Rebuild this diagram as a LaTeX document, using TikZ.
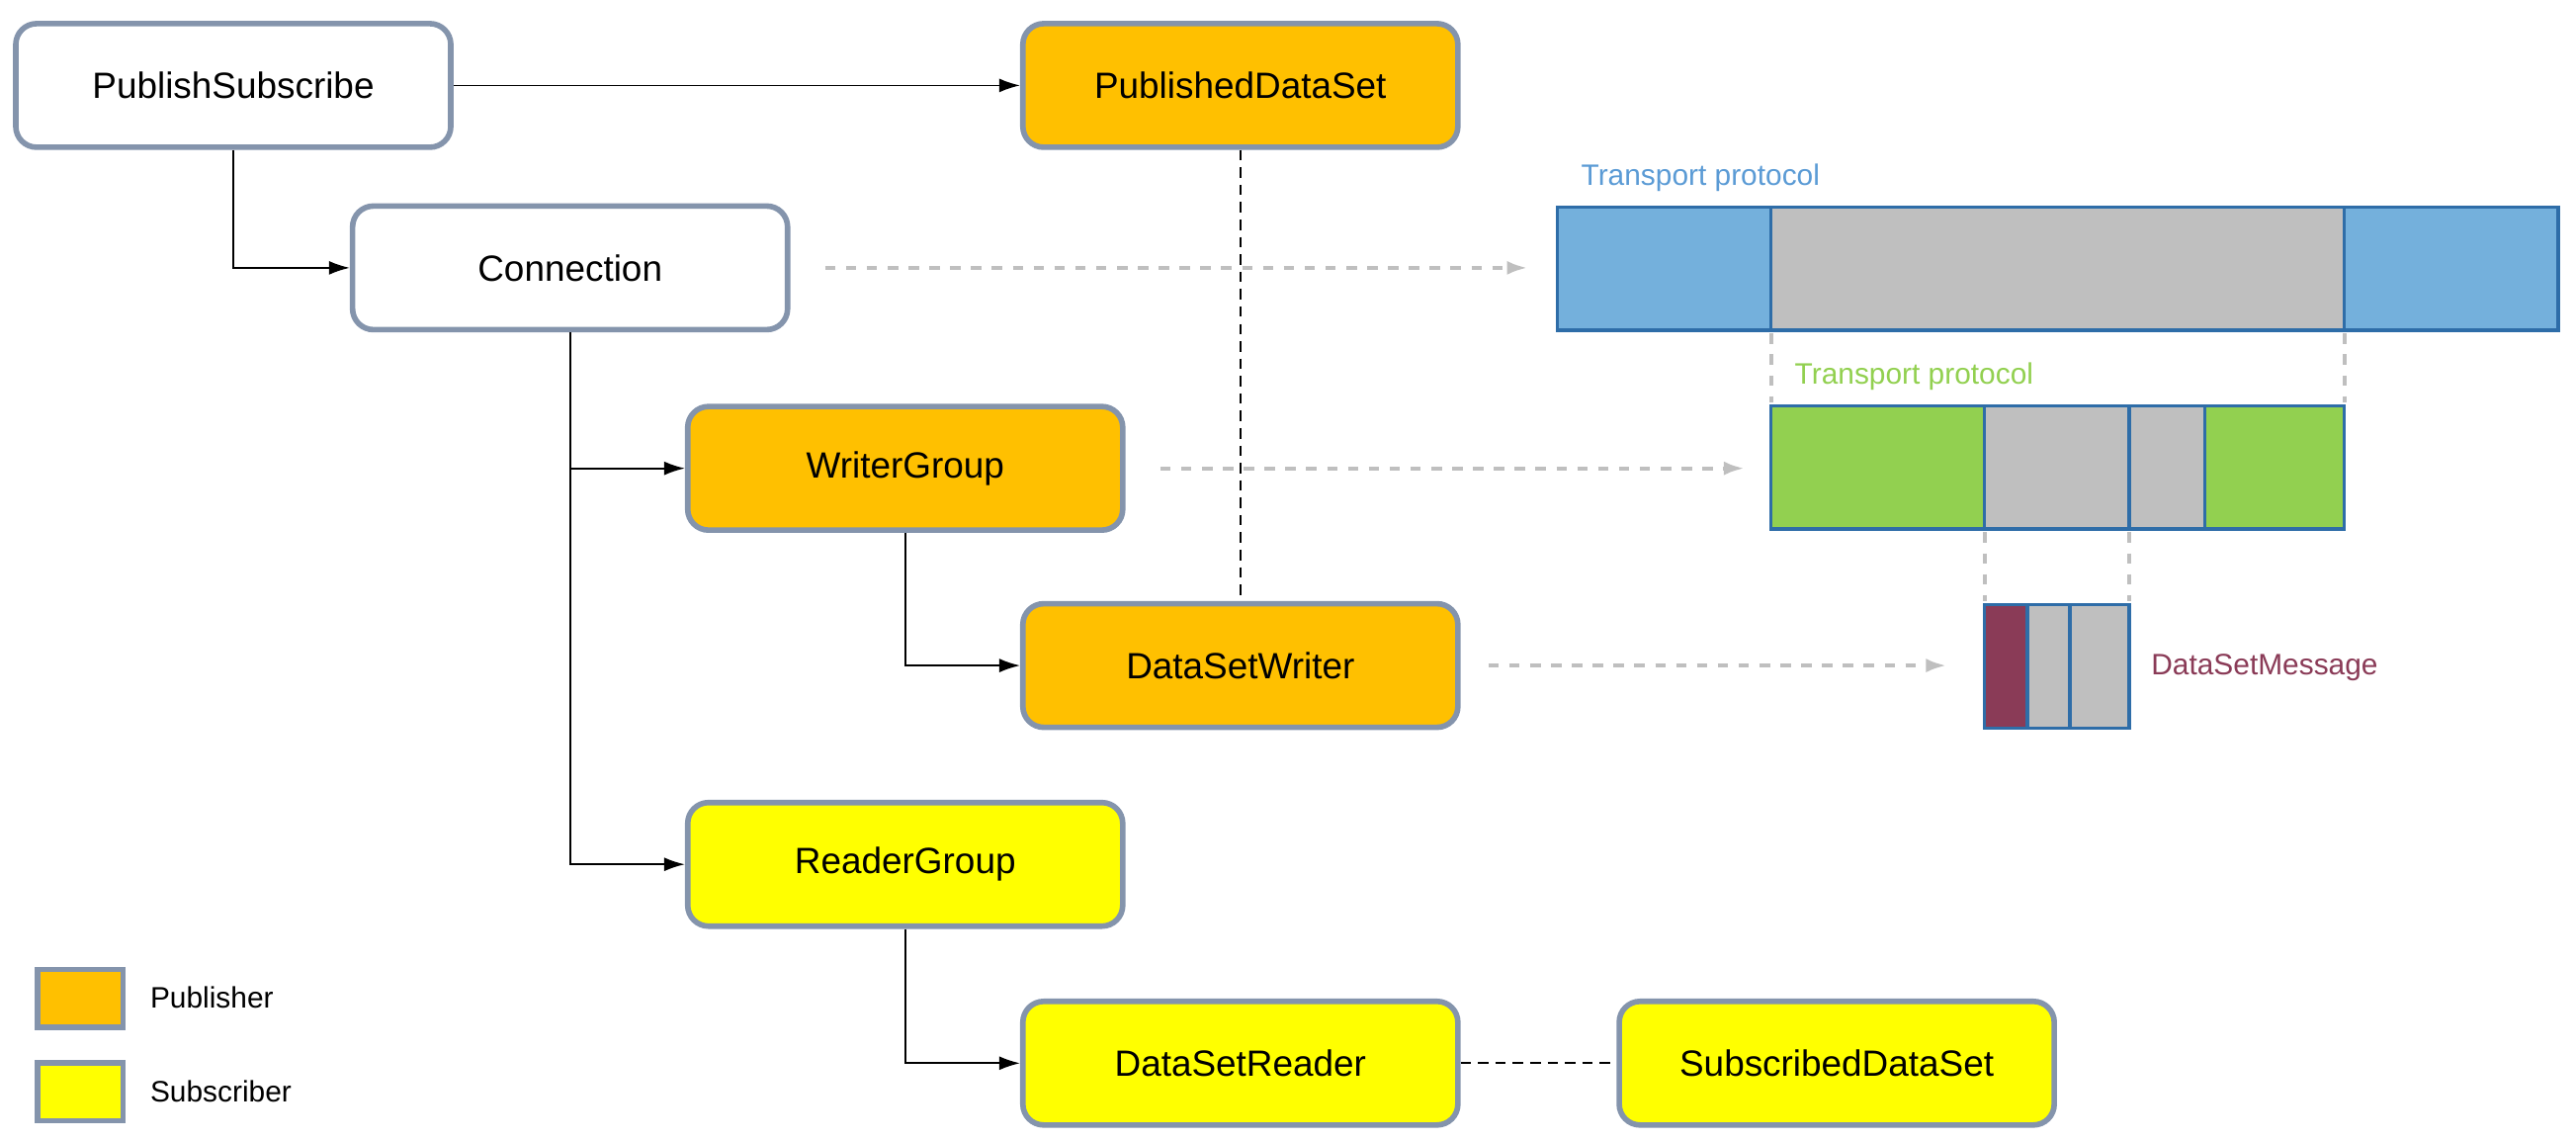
\documentclass[tikz,border=0pt]{standalone}
\usepackage{fontspec}
\setmainfont{Liberation Sans}
\usetikzlibrary{positioning, arrows.meta}
\definecolor{pubcol}{HTML}{FFC000}
\definecolor{subcol}{HTML}{FFFF00}
\definecolor{boxline}{HTML}{8494AC}
\definecolor{tpblue}{HTML}{74B0DC}
\definecolor{tpgreen}{HTML}{92D050}
\definecolor{tpgray}{HTML}{BFBFBF}
\definecolor{barline}{HTML}{2E6DA8}
\definecolor{msgcol}{HTML}{8A3B57}
\definecolor{lbblue}{HTML}{5B9BD5}
\tikzset{
	obj/.style={draw=boxline, line width=1.6pt, rounded corners=6pt, minimum width=4.4cm, minimum height=1.25cm, font=\fontsize{10.5}{12}\selectfont},
	link/.style={-{Latex[length=6pt,width=4pt]}, line width=0.5pt},
	map/.style={-{Latex[length=6pt,width=4pt]}, dashed, draw=tpgray, line width=1.2pt},
	guide/.style={dashed, draw=tpgray, line width=1.2pt},
	seg/.style={draw=barline, line width=1pt},
	tag/.style={anchor=west, font=\fontsize{8.5}{10}\selectfont}
}
\begin{document}
\begin{tikzpicture}[x=0.01662cm, y=-0.01662cm]
	\useasboundingbox (0,0) rectangle (1568,694);

	% object nodes
	\node [obj, fill=white] (pubsub) at (142,52) {PublishSubscribe};
	\node [obj, fill=pubcol] (pds) at (755,52) {PublishedDataSet};
	\node [obj, fill=white] (conn) at (347,163) {Connection};
	\node [obj, fill=pubcol] (wg) at (551,285) {WriterGroup};
	\node [obj, fill=pubcol] (dsw) at (755,405) {DataSetWriter};
	\node [obj, fill=subcol] (rg) at (551,526) {ReaderGroup};
	\node [obj, fill=subcol] (dsr) at (755,647) {DataSetReader};
	\node [obj, fill=subcol] (sds) at (1118,647) {SubscribedDataSet};

	% tree links
	\draw [link] (pubsub) -- (pds);
	\draw [link] (pubsub.south) |- (conn.west);
	\draw [link] (conn.south) |- (wg.west);
	\draw [link] (conn.south) |- (rg.west);
	\draw [link] (wg.south) |- (dsw.west);
	\draw [link] (rg.south) |- (dsr.west);
	\draw [densely dashed, line width=0.5pt] (pds) -- (dsw);
	\draw [densely dashed, line width=0.5pt] (dsr) -- (sds);

	% transport bars
	\draw [seg, fill=tpblue] (948,126) rectangle (1078,201);
	\draw [seg, fill=tpgray] (1078,126) rectangle (1427,201);
	\draw [seg, fill=tpblue] (1427,126) rectangle (1557,201);
	\node [tag, text=lbblue] (tp1) at (955,108) {Transport protocol};

	\draw [seg, fill=tpgreen] (1078,247) rectangle (1208,322);
	\draw [seg, fill=tpgray] (1208,247) rectangle (1296,322);
	\draw [seg, fill=tpgray] (1296,247) rectangle (1342,322);
	\draw [seg, fill=tpgreen] (1342,247) rectangle (1427,322);
	\node [tag, text=tpgreen] (tp2) at (1085,229) {Transport protocol};

	\draw [seg, fill=msgcol] (1208,368) rectangle (1234,443);
	\draw [seg, fill=tpgray] (1234,368) rectangle (1260,443);
	\draw [seg, fill=tpgray] (1260,368) rectangle (1296,443);
	\node [tag, text=msgcol] (msg) at (1302,406) {DataSetMessage};

	\draw [guide] (1078,203) -- (1078,245);
	\draw [guide] (1427,203) -- (1427,245);
	\draw [guide] (1208,324) -- (1208,366);
	\draw [guide] (1296,324) -- (1296,366);

	% mapping arrows
	\coordinate (tpin) at (930,163);
	\coordinate (grin) at (1062,285);
	\coordinate (msgin) at (1185,405);
	\draw [map] ([xshift=10pt]conn.east) -- (tpin);
	\draw [map] ([xshift=10pt]wg.east) -- (grin);
	\draw [map] ([xshift=8pt]dsw.east) -- (msgin);

	% legend
	\draw [draw=boxline, line width=1.6pt, fill=pubcol] (23,590) rectangle (75,625);
	\draw [draw=boxline, line width=1.6pt, fill=subcol] (23,647) rectangle (75,682);
	\node [tag] (lpub) at (84,607) {Publisher};
	\node [tag] (lsub) at (84,664) {Subscriber};
\end{tikzpicture}
\end{document}
